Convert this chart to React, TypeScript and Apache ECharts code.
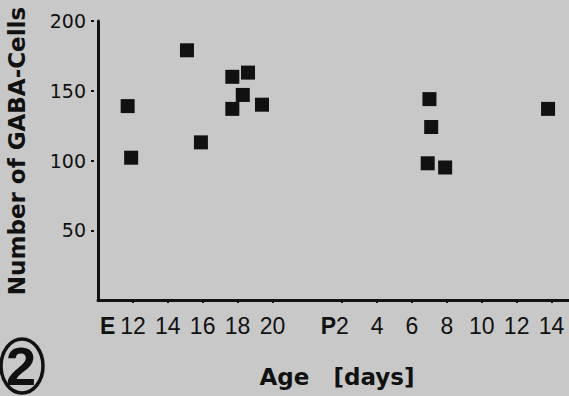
import React, { useEffect, useRef } from "react";
import * as echarts from "echarts";

// Embryonic ages (E days) and counts
const EMB_AGE = [11.7, 11.9, 15.1, 15.9, 17.7, 18.6, 18.3, 17.7, 19.4];
const EMB_COUNT = [139, 102, 179, 113, 160, 163, 147, 137, 140];
// Postnatal ages (P days) and counts
const POST_AGE = [7.0, 7.1, 6.9, 7.9, 13.8];
const POST_COUNT = [144, 124, 98, 95, 137];

const E_TICKS = [12, 14, 16, 18, 20];
const P_TICKS = [2, 4, 6, 8, 10, 12, 14];
const Y_TICKS = [50, 100, 150, 200];
const BIRTH_POS = 22; // axis position of P0

const INK = "#111";
const BG = "#c8c8c8";

export default function App() {
  const ref = useRef<HTMLDivElement>(null);
  useEffect(() => {
    if (!ref.current) return;
    const chart = echarts.init(ref.current, null, { renderer: "svg" });
    const xTickPos = [...E_TICKS, ...P_TICKS.map((p) => BIRTH_POS + p)];
    const numFont = "'Liberation Sans Narrow', 'Liberation Sans', sans-serif";
    const xFormatter = (v: number) => {
      if (v === E_TICKS[0]) return `{bE|E}{nE|${v}}`;
      if (v === BIRTH_POS + P_TICKS[0]) return `{bP|P}{nP|${v - BIRTH_POS}}`;
      if (v < BIRTH_POS) return `{n|${v}}`;
      return `{n|${v - BIRTH_POS}}`;
    };
    const boldStyle = {
      fontFamily: "'Liberation Sans', sans-serif",
      fontWeight: "bold",
      fontSize: 23,
      color: INK,
    };
    const numStyle = { fontFamily: numFont, fontSize: 23, color: INK };
    chart.setOption({
      animation: false,
      backgroundColor: BG,
      grid: { left: 98, right: -2, top: 21, bottom: 96 },
      xAxis: [
        {
          type: "value",
          min: 10,
          max: 37,
          axisLine: { show: true, onZero: false, lineStyle: { color: INK, width: 3 } },
          axisTick: { show: false },
          splitLine: { show: false },
          axisLabel: {
            customValues: xTickPos,
            formatter: xFormatter,
            margin: 14,
            rich: {
              n: numStyle,
              bE: { ...boldStyle, padding: [0, 5, 0, 0] },
              nE: { ...numStyle, padding: [0, 20, 0, 0] },
              bP: { ...boldStyle },
              nP: { ...numStyle, padding: [0, 15, 0, 0] },
            },
          },
        },
        {
          type: "value",
          min: 10,
          max: 37,
          position: "bottom",
          offset: 4,
          axisLine: { show: false },
          axisTick: { show: true, customValues: xTickPos, length: 3, lineStyle: { color: INK, width: 2 } },
          axisLabel: { show: false },
          splitLine: { show: false },
        },
      ],
      yAxis: [
        {
          type: "value",
          min: 0,
          max: 200,
          interval: 50,
          axisLine: { show: true, onZero: false, lineStyle: { color: INK, width: 3 } },
          axisTick: { show: false },
          splitLine: { show: false },
          axisLabel: {
            customValues: Y_TICKS,
            margin: 12,
            fontFamily: "'DejaVu Sans', sans-serif",
            fontSize: 19,
            color: INK,
          },
        },
        {
          type: "value",
          min: 0,
          max: 200,
          position: "left",
          offset: 4,
          axisLine: { show: false },
          axisTick: { show: true, customValues: Y_TICKS, length: 3, lineStyle: { color: INK, width: 2 } },
          axisLabel: { show: false },
          splitLine: { show: false },
        },
      ],
      series: [
        {
          type: "scatter",
          symbol: "rect",
          symbolSize: 14,
          itemStyle: { color: INK, opacity: 1 },
          data: EMB_AGE.map((a, i) => [a, EMB_COUNT[i]]),
        },
        {
          type: "scatter",
          symbol: "rect",
          symbolSize: 14,
          itemStyle: { color: INK, opacity: 1 },
          data: POST_AGE.map((a, i) => [BIRTH_POS + a, POST_COUNT[i]]),
        },
      ],
      graphic: [
        {
          type: "text",
          x: 17,
          y: 151,
          rotation: Math.PI / 2,
          style: {
            text: "Number of GABA-Cells",
            fontFamily: "'DejaVu Sans', sans-serif",
            fontWeight: "bold",
            fontSize: 23,
            fill: INK,
            textAlign: "center",
            textVerticalAlign: "middle",
          },
        },
        {
          type: "text",
          x: 337,
          y: 377,
          style: {
            text: "Age   [days]",
            fontFamily: "'DejaVu Sans', sans-serif",
            fontWeight: "bold",
            fontSize: 23,
            fill: INK,
            textAlign: "center",
            textVerticalAlign: "middle",
          },
        },
        {
          type: "ellipse",
          shape: { cx: 22, cy: 366, rx: 21, ry: 27 },
          style: { fill: "none", stroke: INK, lineWidth: 3.5 },
        },
        {
          type: "text",
          x: 21,
          y: 366,
          style: {
            text: "2",
            fontFamily: "'Liberation Sans', sans-serif",
            fontWeight: "bold",
            fontSize: 54,
            fill: INK,
            textAlign: "center",
            textVerticalAlign: "middle",
          },
        },
      ],
    });
    return () => chart.dispose();
  }, []);
  return (
    <div
      ref={ref}
      style={{ position: "fixed", left: 0, top: 0, width: 569, height: 396, background: BG }}
    />
  );
}
